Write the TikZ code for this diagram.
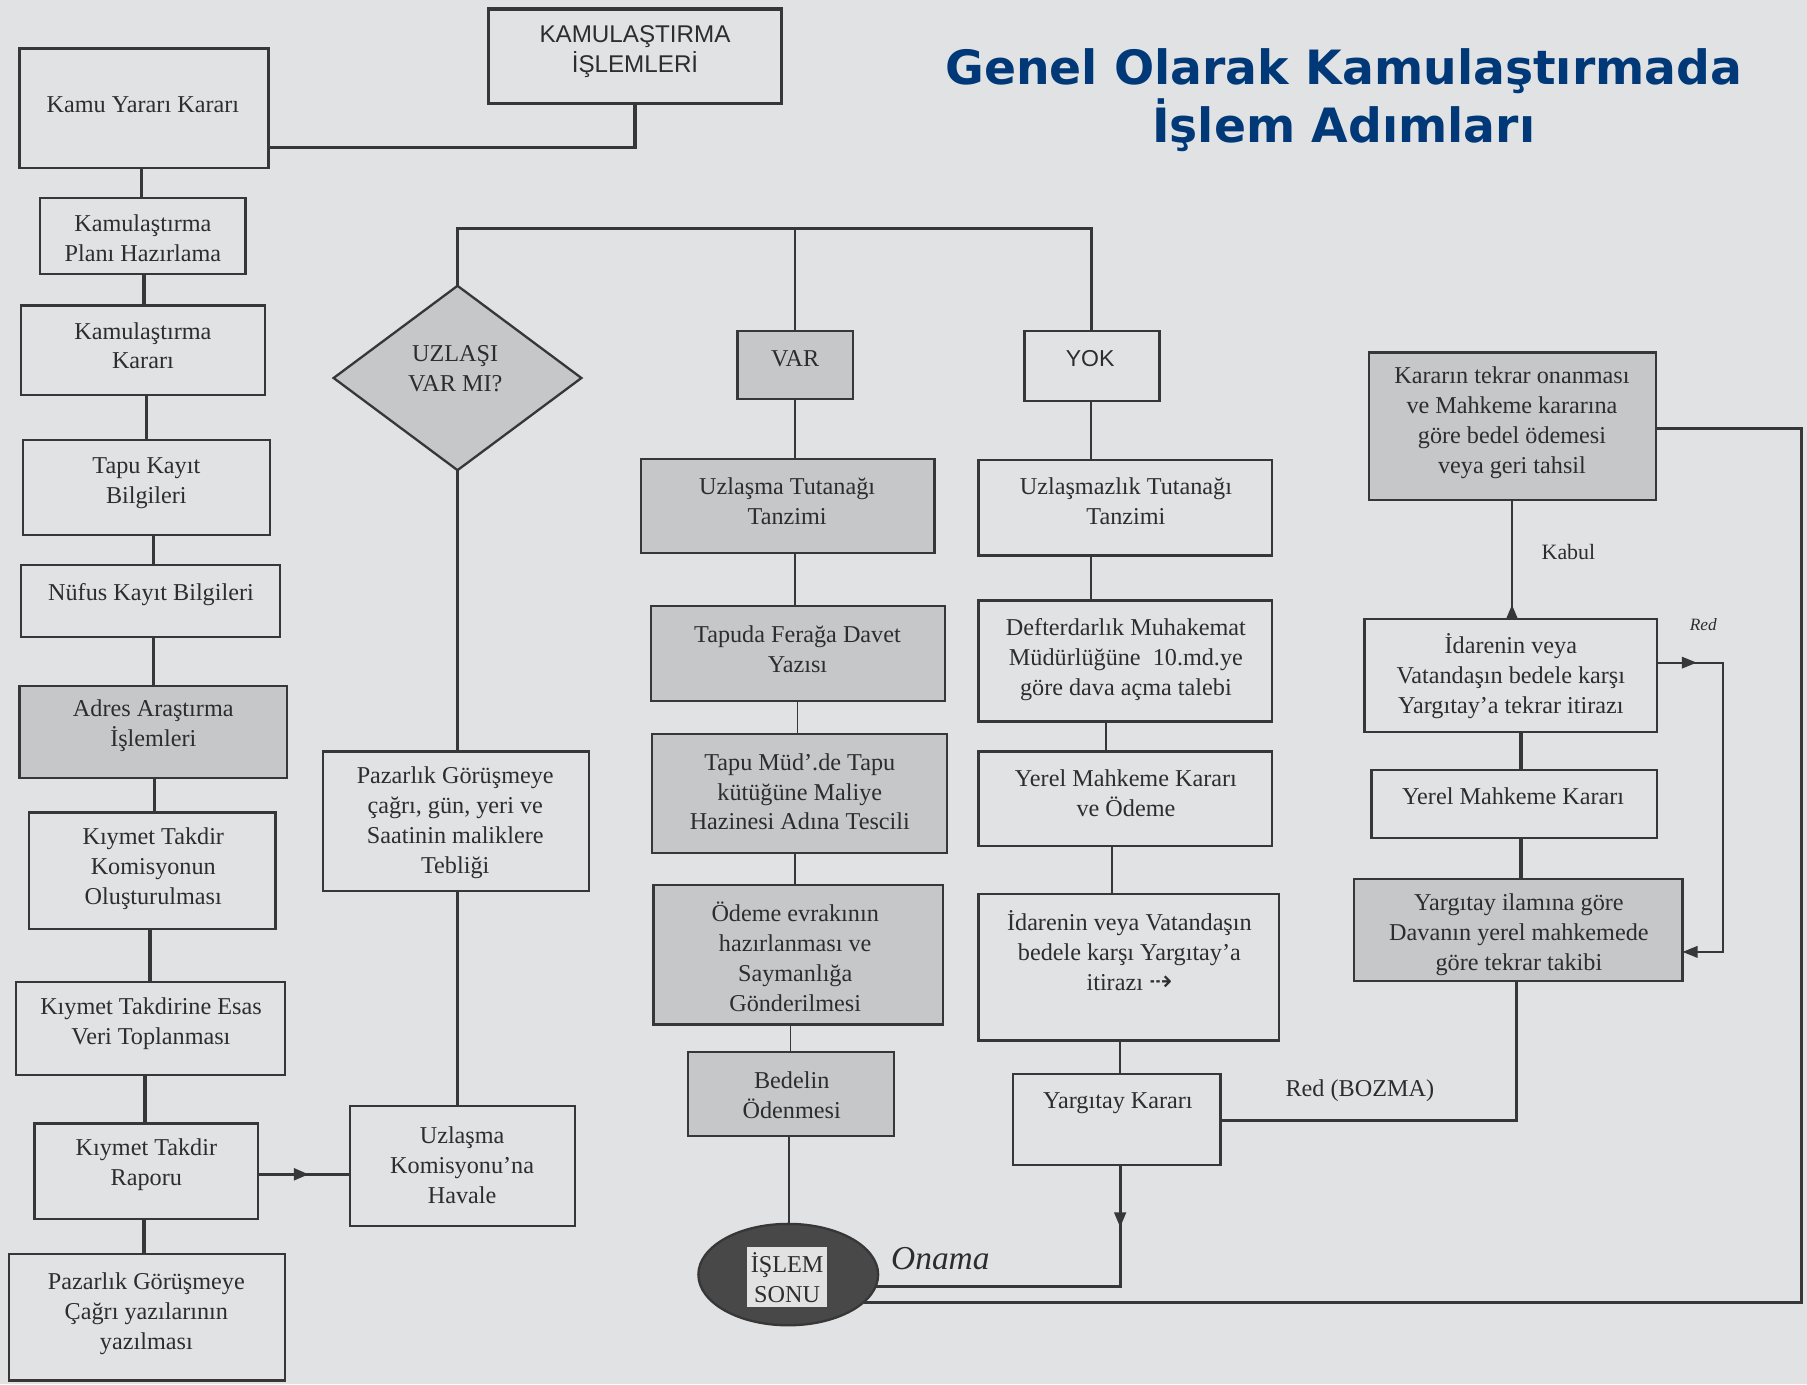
\documentclass[tikz,border=0pt]{standalone}
\usepackage{fontspec}
\setmainfont{Liberation Serif}
\newfontfamily\sansf{Liberation Sans}
\newfontfamily\titlef{DejaVu Sans}
\newfontfamily\symf{DejaVu Sans}
\usetikzlibrary{shapes.geometric,arrows.meta,decorations.markings}
\definecolor{bg}{RGB}{224,226,227}
\definecolor{shade}{RGB}{198,199,200}
\definecolor{ink}{RGB}{45,45,45}
\definecolor{edge}{RGB}{55,55,55}
\definecolor{titleblue}{RGB}{0,56,120}
\definecolor{ovalfill}{RGB}{72,72,72}
\definecolor{ovalin}{RGB}{226,226,226}
\newcommand\drawbox[6]{\node[#2,minimum width={(#5)-(#3)},minimum height={(#6)-(#4)}] (#1) at ({((#3)+(#5))/2},{((#4)+(#6))/2}) {};}
\newcommand\vconn[4][conn]{\draw[#1] (#2.south -| #4,0) -- (#3.north -| #4,0);}
\begin{document}
\begin{tikzpicture}[x=1pt,y=-1pt,
 box/.style={rectangle,draw=edge,line width=2pt,inner sep=0pt,outer sep=0pt},
 sbox/.style={box,fill=shade},
 txt/.style={align=center,text=ink,inner sep=0pt,font=\fontsize{21}{26}\selectfont},
 conn/.style={draw=edge,line width=1.6pt},
 tconn/.style={draw=edge,line width=3pt},
 tip/.style={-{Triangle[length=13pt,width=10pt]}},
 midarr/.style={postaction={decorate},decoration={markings,mark=at position #1 with {\arrow{Triangle[length=13pt,width=10pt]}}}},
]
\useasboundingbox (0,0) rectangle (1568,1201);
\fill[bg] (0,0) rectangle (1568,1201);

% title
\node[align=center,text=titleblue,inner sep=0pt,font=\titlef\bfseries\fontsize{41}{50}\selectfont] (title) at (1166,87) {Genel Olarak Kamulaştırmada\\İşlem Adımları};

% left column
\drawbox{kml}{box,line width=3pt}{424}{8}{678}{90}
\drawbox{kamu}{box}{17}{42}{233}{146}
\drawbox{plan}{box}{35}{172}{213}{238}
\drawbox{kkar}{box}{18}{265}{230}{343}
\drawbox{tapu}{box}{20}{382}{234}{464}
\drawbox{nuf}{box}{18}{490}{243}{553}
\drawbox{adr}{sbox}{17}{595}{249}{675}
\drawbox{kom}{box}{25}{705}{239}{806}
\drawbox{veri}{box}{14}{852}{247}{933}
\drawbox{rap}{box}{30}{975}{224}{1058}
\drawbox{paz}{box}{8}{1088}{247}{1198}

\node[txt,font=\sansf\fontsize{21}{26}\selectfont] (kml-t) at (551,45) {KAMULAŞTIRMA\\İŞLEMLERİ};
\node[txt] (kamu-t) at (124,91) {Kamu Yararı Kararı};
\node[txt] (plan-t) at (124,207) {Kamulaştırma\\Planı Hazırlama};
\node[txt] (kkar-t) at (124,300) {Kamulaştırma\\Kararı};
\node[txt] (tapu-t) at (127,419) {Tapu Kayıt\\Bilgileri};
\node[txt] (nuf-t) at (131,516) {Nüfus Kayıt Bilgileri};
\node[txt] (adr-t) at (133,630) {Adres Araştırma\\İşlemleri};
\node[txt] (kom-t) at (133,754) {Kıymet Takdir\\Komisyonun\\Oluşturulması};
\node[txt] (veri-t) at (131,888) {Kıymet Takdirine Esas\\Veri Toplanması};
\node[txt] (rap-t) at (127,1011) {Kıymet Takdir\\Raporu};
\node[txt] (paz-t) at (127,1140) {Pazarlık Görüşmeye\\Çağrı yazılarının\\yazılması};

% second column
\node[diamond,draw=edge,line width=2pt,fill=shade,minimum width=215,minimum height=160,inner sep=0pt,outer sep=0pt] (dia) at (397,328) {};
\node[txt] (dia-t) at (395,320) {UZLAŞI\\VAR MI?};
\drawbox{pzc}{box}{280}{652}{511}{773}
\drawbox{uzk}{box}{304}{960}{499}{1064}
\node[txt] (pzc-t) at (395,714) {Pazarlık Görüşmeye\\çağrı, gün, yeri ve\\Saatinin maliklere\\Tebliği};
\node[txt] (uzk-t) at (401,1011) {Uzlaşma\\Komisyonu'na\\Havale};

% VAR column
\drawbox{var}{sbox}{640}{287}{740}{346}
\drawbox{utut}{sbox}{556}{398}{811}{480}
\drawbox{taf}{sbox}{565}{526}{820}{608}
\drawbox{tmud}{sbox}{566}{637}{822}{740}
\drawbox{ode}{sbox}{567}{768}{818}{889}
\drawbox{bed}{sbox}{597}{913}{776}{986}
\node[txt] (var-t) at (690,311) {VAR};
\node[txt] (utut-t) at (683,435) {Uzlaşma Tutanağı\\Tanzimi};
\node[txt] (taf-t) at (692,563) {Tapuda Ferağa Davet\\Yazısı};
\node[txt] (tmud-t) at (694,687) {Tapu Müd'.de Tapu\\kütüğüne Maliye\\Hazinesi Adına Tescili};
\node[txt] (ode-t) at (690,830) {Ödeme evrakının\\hazırlanması ve\\Saymanlığa\\Gönderilmesi};
\node[txt] (bed-t) at (687,950) {Bedelin\\Ödenmesi};

\node[ellipse,draw=edge,line width=2pt,fill=ovalfill,minimum width=156,minimum height=88,inner sep=0pt,outer sep=0pt] (end) at (684,1106) {};
\node[rectangle,fill=ovalin,minimum width=70,minimum height=52,inner sep=0pt] (endbox) at (683,1108) {};
\node[txt] (end-t) at (683,1109) {İŞLEM\\SONU};

% YOK column
\drawbox{yok}{box}{889}{287}{1006}{348}
\drawbox{uzs}{box}{849}{399}{1104}{482}
\drawbox{def}{box}{849}{521}{1104}{626}
\drawbox{yer}{box}{849}{652}{1104}{734}
\drawbox{itr}{box}{849}{776}{1110}{903}
\drawbox{ykar}{box}{879}{932}{1059}{1011}
\node[txt,font=\sansf\fontsize{20}{24}\selectfont] (yok-t) at (946,311) {YOK};
\node[txt] (uzs-t) at (977,435) {Uzlaşmazlık Tutanağı\\Tanzimi};
\node[txt] (def-t) at (977,572) {Defterdarlık Muhakemat\\Müdürlüğüne\ \ 10.md.ye\\göre dava açma talebi};
\node[txt] (yer-t) at (977,688) {Yerel Mahkeme Kararı\\ve Ödeme};
\node[txt] (itr-t) at (980,825) {İdarenin veya Vatandaşın\\bedele karşı Yargıtay'a\\itirazı {\symf\fontsize{24}{26}\selectfont ⇢}};
\node[txt] (ykar-t) at (970,957) {Yargıtay Kararı};

% right column
\drawbox{kar}{sbox}{1188}{306}{1437}{434}
\drawbox{idr}{box}{1184}{537}{1438}{635}
\drawbox{yer2}{box}{1190}{668}{1438}{727}
\drawbox{yil}{sbox}{1175}{763}{1460}{851}
\node[txt] (kar-t) at (1312,367) {Kararın tekrar onanması\\ve Mahkeme kararına\\göre bedel ödemesi\\veya geri tahsil};
\node[txt] (idr-t) at (1311,587) {İdarenin veya\\Vatandaşın bedele karşı\\Yargıtay'a tekrar itirazı};
\node[txt] (yer2-t) at (1313,691) {Yerel Mahkeme Kararı};
\node[txt] (yil-t) at (1318,811) {Yargıtay ilamına göre\\Davanın yerel mahkemede\\göre tekrar takibi};

% labels
\node[txt,font=\fontsize{19}{22}\selectfont] (kabul) at (1361,479) {Kabul};
\node[txt,font=\itshape\fontsize{15}{18}\selectfont] (redl) at (1478,542) {Red};
\node[txt] (bozma) at (1180,946) {Red (BOZMA)};
\node[txt,font=\itshape\fontsize{29}{32}\selectfont] (onama) at (816,1092) {Onama};

% connectors: left column
\draw[tconn] (kamu.east |- 0,128) -| (kml.south);
\vconn[tconn]{kamu}{plan}{123}
\vconn[tconn]{plan}{kkar}{125}
\vconn[tconn]{kkar}{tapu}{127}
\vconn[tconn]{tapu}{nuf}{133}
\vconn[tconn]{nuf}{adr}{133}
\vconn[tconn]{adr}{kom}{134}
\vconn[tconn]{kom}{veri}{130}
\vconn[tconn]{veri}{rap}{126}
\vconn[tconn]{rap}{paz}{125}
\draw[tconn,midarr=0.55] (rap.east |- 0,1019) -- (uzk.west |- 0,1019);

% second column
\draw[tconn,line width=2.6pt] (dia.north) -- (dia.north |- 0,198) -| (yok.north);
\draw[conn,line width=2.2pt] (var.north) -- (var.north |- 0,198);
\draw[conn,line width=2.2pt] (dia.south) -- (dia.south |- pzc.north);
\draw[conn,line width=2.2pt] (pzc.south -| 397,0) -- (uzk.north -| 397,0);

% VAR column
\vconn{var}{utut}{690}
\vconn{utut}{taf}{690}
\vconn{taf}{tmud}{692}
\vconn{tmud}{ode}{690}
\vconn{ode}{bed}{686}
\draw[conn] (bed.south -| 685,0) -- (end.north -| 685,0);

% YOK column
\vconn{yok}{uzs}{947}
\vconn{uzs}{def}{947}
\vconn{def}{yer}{960}
\vconn{yer}{itr}{965}
\vconn{itr}{ykar}{972}
\draw[tconn,line width=2.4pt,midarr=0.17] (ykar.south -| 972,0) |- (end.-8);
\draw[tconn,line width=2.6pt] (end.-20) -| (1563,372) -- (kar.east |- 0,372);

% right column
\draw[tconn,line width=2.6pt,midarr=0.12] (idr.north -| 1312,0) -- (kar.south -| 1312,0);
\draw[conn,tip,midarr=0.1] (idr.east |- 0,575) -| (1495,826) -- (yil.east |- 0,826);
\vconn[tconn]{idr}{yer2}{1320}
\vconn[tconn]{yer2}{yil}{1320}
\draw[tconn,line width=2.6pt] (yil.south -| 1316,0) |- (ykar.east |- 0,972);
\end{tikzpicture}
\end{document}
